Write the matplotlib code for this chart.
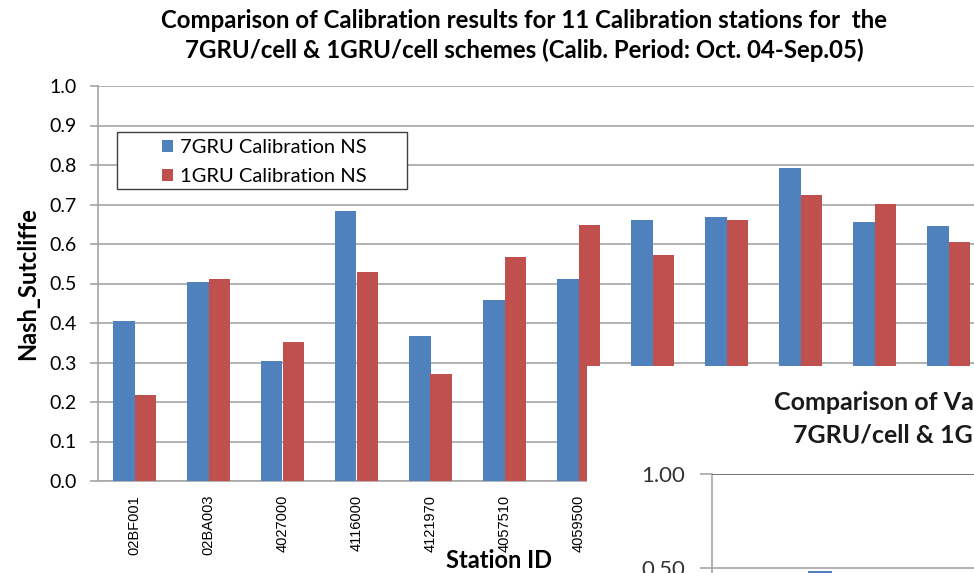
import matplotlib
matplotlib.use('Agg')
import matplotlib.pyplot as plt
from matplotlib.patches import Rectangle
import numpy as np

plt.rcParams['font.family'] = ['Lato', 'DejaVu Sans']

# calibration Nash-Sutcliffe per station
stations = ['02BF001', '02BA003', '4027000', '4116000', '4121970', '4057510', '4059500',
            '', '', '', '', '']
ns_7gru = [0.405, 0.505, 0.305, 0.684, 0.368, 0.458, 0.512, 0.661, 0.668, 0.793, 0.656, 0.645]
ns_1gru = [0.218, 0.512, 0.353, 0.530, 0.271, 0.567, 0.648, 0.571, 0.661, 0.724, 0.702, 0.606]

# validation chart pasted over the lower right corner
val_7gru = [0.48]
val_ticks = [0.0, 0.5, 1.0]

BLUE = '#4f81bd'
RED = '#c0504d'
GRID = '#a6a6a6'

W, H = 974, 573
fig = plt.figure(figsize=(W / 100, H / 100), dpi=100)
fig.patch.set_facecolor('white')

def fx(px):
    return px / W

def fy(py):
    return 1 - py / H

n = len(stations)
x = np.arange(n)
bw = 0.29

ax = fig.add_axes([fx(97.5), fy(481), n * 74 / W, 395 / H])
ax.bar(x - bw / 2, ns_7gru, bw, color=BLUE, label='7GRU Calibration NS', zorder=3)
ax.bar(x + bw / 2, ns_1gru, bw, color=RED, label='1GRU Calibration NS', zorder=3)
ax.set_xlim(-0.5, n - 0.5)
ax.set_ylim(0, 1.0)
ax.set_yticks(np.arange(0, 1.01, 0.1))
ax.set_yticklabels(['%.1f' % v for v in np.arange(0, 1.01, 0.1)], fontsize=14)
ax.yaxis.grid(True, color=GRID, lw=1.2, zorder=0)
ax.set_axisbelow(True)
for s in ['top', 'right']:
    ax.spines[s].set_visible(False)
ax.spines['left'].set_color(GRID)
ax.spines['bottom'].set_color(GRID)
ax.spines['left'].set_linewidth(1.2)
ax.spines['bottom'].set_linewidth(1.2)
ax.tick_params(axis='y', length=6, width=1.2, color=GRID, pad=9)
ax.tick_params(axis='x', length=0, pad=10)
ax.set_xticks(x)
ax.set_xticklabels(stations, rotation=90, fontsize=10.5, family='Liberation Sans', va='top')
ax.set_ylabel('Nash_Sutcliffe', fontsize=17, fontweight='bold', labelpad=7)

fig.text(fx(524), fy(20), 'Comparison of Calibration results for 11 Calibration stations for  the',
         ha='center', va='center', fontsize=17.3, fontweight='bold')
fig.text(fx(524), fy(50), '7GRU/cell & 1GRU/cell schemes (Calib. Period: Oct. 04-Sep.05)',
         ha='center', va='center', fontsize=17.3, fontweight='bold')
fig.text(fx(499), fy(560), 'Station ID', ha='center', va='center', fontsize=17, fontweight='bold')

# legend box with wide side margins
fig.patches.append(Rectangle((fx(117), fy(189)), fx(407) - fx(117), (189 - 132) / H,
                             transform=fig.transFigure, facecolor='white',
                             edgecolor='#404040', lw=1.0, zorder=4))
leg = fig.legend(loc='upper left', bbox_to_anchor=(fx(162), fy(139)), fontsize=14.5,
                 frameon=False, borderpad=0, handlelength=0.55, handleheight=0.55,
                 handletextpad=0.35, labelspacing=0.62, borderaxespad=0)
leg.set_zorder(5)

# white panel of the overlaid validation chart
panel = fig.add_axes([fx(587), 0, 1 - fx(587), (H - 366) / H], zorder=6)
panel.set_facecolor('white')
panel.set_xticks([])
panel.set_yticks([])
for s in panel.spines.values():
    s.set_visible(False)

fig.text(fx(774), fy(403), 'Comparison of Validation results', ha='left', va='center',
         fontsize=18, fontweight='bold', color='#1a1a1a', zorder=8)
fig.text(fx(793), fy(435), '7GRU/cell & 1GRU/cell schemes', ha='left', va='center',
         fontsize=18, fontweight='bold', color='#1a1a1a', zorder=8)

ins_h = (661 - 474.3) / H
ins = fig.add_axes([fx(711.7), fy(661), 0.32, ins_h], zorder=7)
ins.patch.set_alpha(0)
ins.bar([-0.05], val_7gru, 0.1, color=BLUE, zorder=3)
ins.set_xlim(-0.5, 0.795)
ins.set_ylim(0, 1.0)
ins.set_yticks(val_ticks)
ins.set_yticklabels(['%.2f' % v for v in val_ticks], fontsize=16, color='#333333')
ins.yaxis.grid(True, color=GRID, lw=1.2, zorder=0)
ins.axhline(1.0, color='#707070', lw=1.3, zorder=4)
for s in ['top', 'right', 'bottom']:
    ins.spines[s].set_visible(False)
ins.spines['left'].set_color(GRID)
ins.spines['left'].set_linewidth(1.2)
ins.tick_params(axis='y', length=9, width=1.2, color=GRID, pad=10)
ins.set_xticks([])

fig.savefig('out.png', dpi=100)
